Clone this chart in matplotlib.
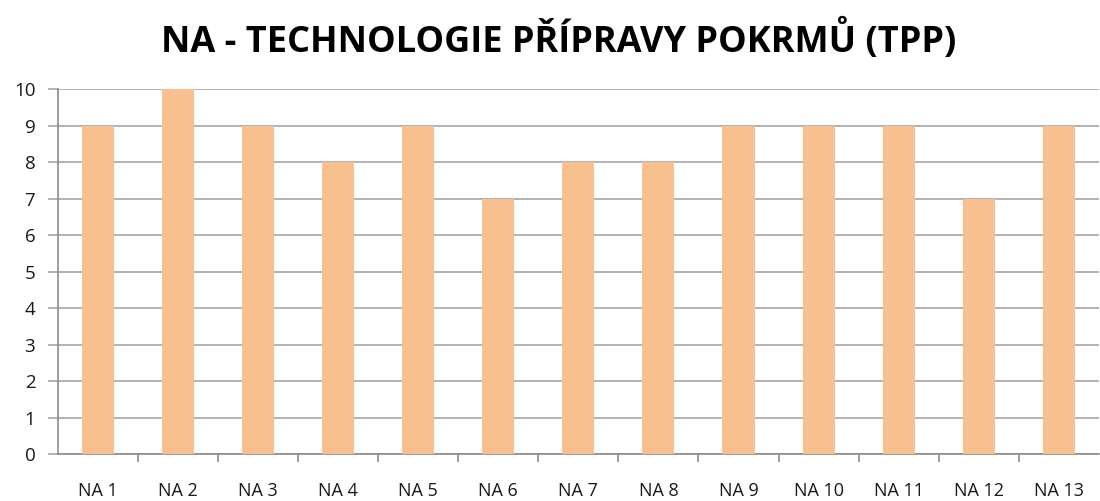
import matplotlib
matplotlib.use("Agg")
import matplotlib.pyplot as plt

categories = ["NA 1", "NA 2", "NA 3", "NA 4", "NA 5", "NA 6", "NA 7",
              "NA 8", "NA 9", "NA 10", "NA 11", "NA 12", "NA 13"]
values = [9, 10, 9, 8, 9, 7, 8, 8, 9, 9, 9, 7, 9]
title = "NA - TECHNOLOGIE PŘÍPRAVY POKRMŮ (TPP)"

plt.rcParams['font.family'] = ['Open Sans', 'DejaVu Sans']

fig = plt.figure(figsize=(11, 5.01), dpi=100)
ax = fig.add_axes([0.0523, 0.0938, 0.9468, 0.7276])

x = list(range(len(categories)))
ax.bar(x, values, width=0.4, color="#F9C08F", zorder=3)
ax.set_xlim(-0.5, len(categories) - 0.5)
ax.set_ylim(0, 10)
ax.set_yticks(range(0, 11))
ax.yaxis.grid(True, color="#A6A6A6", linewidth=1.2, zorder=0)
ax.set_axisbelow(True)

ax.set_xticks([i + 0.5 for i in x[:-1]])
ax.set_xticklabels([])
ax.set_xticks(x, minor=True)
ax.set_xticklabels(categories, minor=True)
ax.tick_params(axis='x', which='major', length=6, width=1.2, color="#8C8C8C", direction='out')
ax.tick_params(axis='x', which='minor', length=0, pad=20, labelsize=13, labelcolor="#1a1a1a")
ax.tick_params(axis='y', length=7, width=1.2, color="#A6A6A6", pad=9, labelsize=13.5, labelcolor="#1a1a1a")

for s in ['top', 'right']:
    ax.spines[s].set_visible(False)
ax.spines['left'].set_color("#8C8C8C")
ax.spines['bottom'].set_color("#8C8C8C")
ax.spines['left'].set_linewidth(1.2)
ax.spines['bottom'].set_linewidth(1.2)

fig.text(0.508, 0.92, title, ha='center', va='center', fontsize=26, fontweight='bold', color="#000000")

fig.savefig("out.png", dpi=100)
